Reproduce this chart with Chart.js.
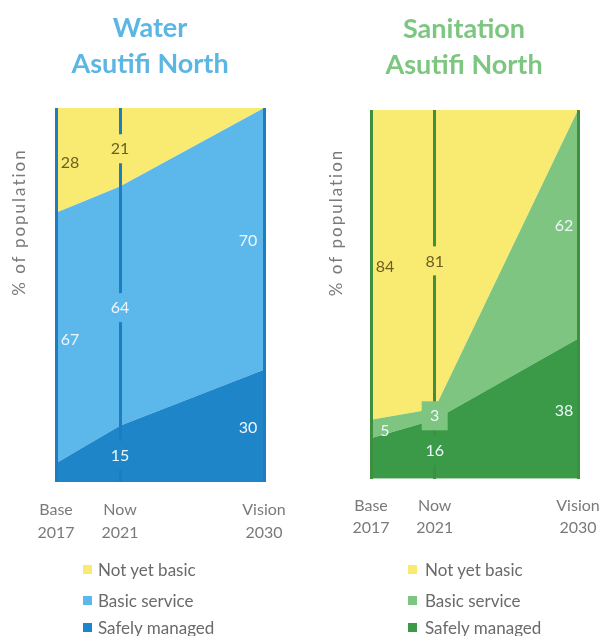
<!DOCTYPE html>
<html>
<head>
<meta charset="utf-8">
<script src="https://cdn.jsdelivr.net/npm/chart.js@4/dist/chart.umd.min.js"></script>
<style>
  html, body { margin: 0; padding: 0; background: #ffffff; }
  body { width: 602px; height: 636px; position: relative; overflow: hidden; font-family: Lato, "Open Sans", sans-serif; }
  .panel { position: absolute; top: 0; }
  .legend { position: absolute; font-family: Lato, sans-serif; font-size: 17px; color: #6a6a6a; }
  .legend .item { position: absolute; left: 0; white-space: nowrap; height: 18px; line-height: 18px; }
  .legend .sw { position: absolute; top: 4px; width: 9px; height: 9px; }
  .legend .tx { position: absolute; top: 0; }
</style>
</head>
<body>
<canvas id="water" class="panel" style="left:0px" width="301" height="560"></canvas>
<canvas id="sanitation" class="panel" style="left:301px" width="301" height="560"></canvas>
<div id="legendWater" class="legend" style="left:83px; top:561px;"></div>
<div id="legendSan" class="legend" style="left:408px; top:561px;"></div>
<script>
// ---------- data ----------
const years = [2017, 2021, 2030];
const periodNames = ['Base', 'Now', 'Vision'];
const seriesNames = ['Safely managed', 'Basic service', 'Not yet basic'];

const waterSafely = [5, 15, 30];
const waterBasic  = [67, 64, 70];
const waterNotYet = [28, 21, 0];

const sanSafely = [11, 16, 38];
const sanBasic  = [5, 3, 62];
const sanNotYet = [84, 81, 0];

// which values carry a label (series order: safely, basic, not yet)
const waterLabelled = [[false, true, true], [true, true, true], [true, true, false]];
const sanLabelled   = [[false, true, true], [true, true, true], [true, true, false]];

// ---------- styles ----------
const waterColors = { safely: '#1f85c9', basic: '#5cb8ea', notYet: '#f9eb72', line: '#1c7dc0', title: '#5cb6e4' };
const sanColors   = { safely: '#3b9a48', basic: '#7dc580', notYet: '#f9eb72', line: '#3e8f40', title: '#7cc680' };
const darkLabel = '#6b5e24';
const lightLabel = '#eef6fb';

// ---------- plugins ----------
const areaLabels = {
  id: 'areaLabels',
  afterDraw(chart) {
    const opts = chart.options.plugins.areaLabels;
    if (!opts) return;
    const { ctx } = chart;
    const x = chart.scales.x, y = chart.scales.y;
    const dsets = chart.data.datasets;
    ctx.save();
    ctx.font = '16px Lato, sans-serif';
    ctx.textAlign = 'center';
    ctx.textBaseline = 'middle';
    for (let di = 0; di < dsets.length; di++) {
      const ds = dsets[di];
      for (let i = 0; i < ds.data.length; i++) {
        if (!opts.labelled[di][i]) continue;
        let base = 0;
        for (let k = 0; k < di; k++) base += dsets[k].data[i];
        const v = ds.data[i];
        const px = x.getPixelForValue(years[i]) + opts.dx[i];
        const py = y.getPixelForValue(base + v / 2) + 2;
        if (i === 1) {
          ctx.fillStyle = ds.backgroundColor;
          ctx.fillRect(px - 13, py - 15, 26, 29);
        }
        ctx.fillStyle = ds.labelColor;
        ctx.fillText(String(v), px, py);
      }
    }
    ctx.restore();
  }
};

const yTitle = {
  id: 'yTitle',
  afterDraw(chart) {
    const opts = chart.options.plugins.yTitle;
    if (!opts) return;
    const { ctx, chartArea } = chart;
    ctx.save();
    ctx.translate(opts.x, chartArea.top + opts.frac * (chartArea.bottom - chartArea.top));
    ctx.rotate(-Math.PI / 2);
    ctx.font = '17px Lato, sans-serif';
    try { ctx.letterSpacing = '2px'; } catch (e) {}
    ctx.fillStyle = '#7a7a7a';
    ctx.textAlign = 'center';
    ctx.textBaseline = 'middle';
    ctx.fillText(opts.text, 0, 0);
    ctx.restore();
  }
};

function makeChart(id, titleLines, safely, basic, notYet, colors, labelled, lay) {
  const ds = [
    { label: seriesNames[0], data: safely, backgroundColor: colors.safely, labelColor: lightLabel, fill: 'origin' },
    { label: seriesNames[1], data: basic,  backgroundColor: colors.basic,  labelColor: lightLabel, fill: '-1' },
    { label: seriesNames[2], data: notYet, backgroundColor: colors.notYet, labelColor: darkLabel,  fill: '-1' }
  ].map(d => Object.assign(d, { borderColor: 'rgba(0,0,0,0)', borderWidth: 0, pointRadius: 0, pointHoverRadius: 0, tension: 0 }));

  return new Chart(document.getElementById(id), {
    type: 'line',
    data: { labels: years, datasets: ds },
    plugins: [areaLabels, yTitle],
    options: {
      responsive: false,
      animation: false,
      events: [],
      layout: { padding: lay.padding },
      scales: {
        x: {
          type: 'linear',
          min: years[0],
          max: years[years.length - 1],
          afterBuildTicks: (s) => { s.ticks = years.map(v => ({ value: v })); },
          ticks: {
            autoSkip: false,
            maxRotation: 0,
            padding: 0,
            color: '#7a7a7a',
            font: { family: 'Lato, sans-serif', size: 16, lineHeight: lay.tickLH },
            callback: (v) => { const i = years.indexOf(v); return [periodNames[i], String(years[i])]; }
          },
          grid: { display: true, color: colors.line, lineWidth: 3, drawTicks: true, tickLength: lay.tickLen, tickColor: 'rgba(0,0,0,0)', z: 1 },
          border: { display: false }
        },
        y: {
          stacked: true,
          min: 0,
          max: 100,
          afterFit: (s) => { s.width = lay.yWidth; },
          ticks: { display: false },
          grid: { display: false },
          border: { display: false }
        }
      },
      plugins: {
        legend: { display: false },
        tooltip: { enabled: false },
        title: {
          display: true,
          text: titleLines,
          color: colors.title,
          font: { family: 'Lato, sans-serif', size: 27, weight: 'bold', lineHeight: 1.3333 },
          padding: lay.titlePad
        },
        areaLabels: { labelled: labelled, dx: lay.dx },
        yTitle: { text: '% of population', x: lay.yTitleX, frac: 0.305 }
      }
    }
  });
}

makeChart('water', ['Water', 'Asutifi North'], waterSafely, waterBasic, waterNotYet, waterColors, waterLabelled, {
  padding: { left: 36, right: 37, top: 0, bottom: 16 },
  yWidth: 20, tickLen: 16, tickLH: 1.44, titlePad: { top: 10, bottom: 26 }, dx: [14, 0, -16], yTitleX: 20
});
makeChart('sanitation', ['Sanitation', 'Asutifi North'], sanSafely, sanBasic, sanNotYet, sanColors, sanLabelled, {
  padding: { left: 49, right: 24, top: 0, bottom: 21 },
  yWidth: 21, tickLen: 16, tickLH: 1.38, titlePad: { top: 11, bottom: 27 }, dx: [14, 0, -14], yTitleX: 36
});

// ---------- HTML legends ----------
function buildLegend(elId, colors, textOffset) {
  const el = document.getElementById(elId);
  const order = [[seriesNames[2], colors.notYet], [seriesNames[1], colors.basic], [seriesNames[0], colors.safely]];
  const tops = [0, 31, 58];
  order.forEach(([name, col], k) => {
    const item = document.createElement('div');
    item.className = 'item';
    item.style.top = tops[k] + 'px';
    const sw = document.createElement('span');
    sw.className = 'sw';
    sw.style.background = col;
    const tx = document.createElement('span');
    tx.className = 'tx';
    tx.style.left = textOffset + 'px';
    tx.textContent = name;
    item.appendChild(sw);
    item.appendChild(tx);
    el.appendChild(item);
  });
}
buildLegend('legendWater', waterColors, 15);
buildLegend('legendSan', sanColors, 17);
</script>
</body>
</html>
